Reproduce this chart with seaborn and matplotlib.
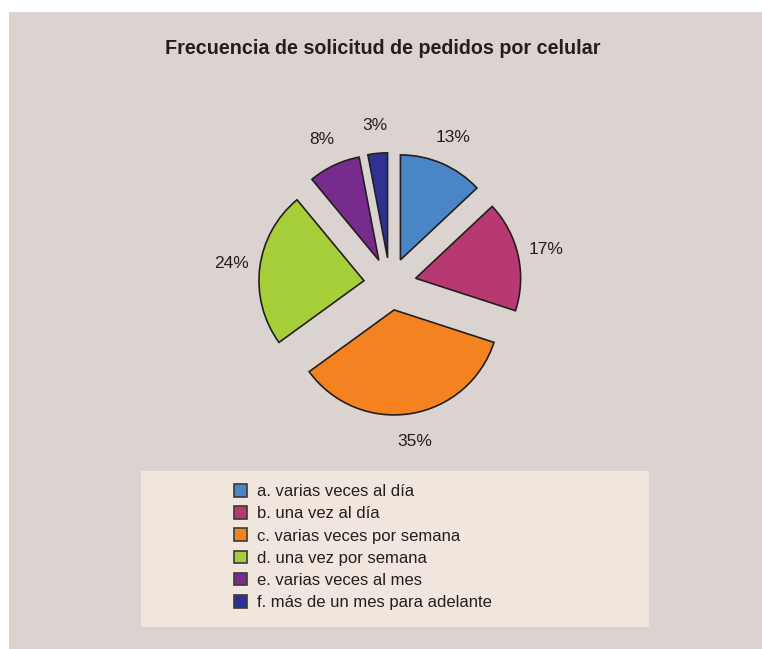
import numpy as np
import matplotlib
matplotlib.use("Agg")
import matplotlib.pyplot as plt
from matplotlib import font_manager
from matplotlib.patches import Rectangle, Patch
import seaborn as sns

# data
categorias = ["a. varias veces al día", "b. una vez al día", "c. varias veces por semana",
              "d. una vez por semana", "e. varias veces al mes", "f. más de un mes para adelante"]
porcentajes = [13, 17, 35, 24, 8, 3]
colores = ["#4A86C5", "#B83872", "#F58220", "#A6CE39", "#772B8C", "#2E3192"]
titulo = "Frecuencia de solicitud de pedidos por celular"

sns.set_theme(style="white")
nombres = {f.name for f in font_manager.fontManager.ttflist}
narrow = "Liberation Sans Narrow" in nombres
fam = "Liberation Sans Narrow" if narrow else "Liberation Sans"
plt.rcParams["font.family"] = [fam, "DejaVu Sans"]
k = 1.1 if narrow else 1.0  # narrow font can go a bit bigger
texto = "#231F20"

W, H = 762, 649
fig = plt.figure(figsize=(W / 100, H / 100), dpi=100)
fig.patch.set_facecolor("white")
# fondo gris del panel y caja de leyenda
fig.add_artist(Rectangle((9 / W, 0), 1, 1 - 12 / H, transform=fig.transFigure,
                         facecolor="#DBD3CF", edgecolor="none", zorder=0))
fig.add_artist(Rectangle((141 / W, 1 - 627 / H), 508 / W, 156 / H, transform=fig.transFigure,
                         facecolor="#F0E6DD", edgecolor="none", zorder=0))

fig.text(383 / W, 1 - 48 / H, titulo, ha="center", va="center",
         fontsize=14.2 * k, fontweight="bold", color=texto)

# pie: center (390,284) px, radius 105 px
cx, cy, half = 390, 284, 150
ax = fig.add_axes([(cx - half) / W, (H - cy - half) / H, 2 * half / W, 2 * half / H])
ax.set_facecolor("none")
wedges, _, autotexts = ax.pie(porcentajes, colors=colores, startangle=90, counterclock=False,
                              explode=[0.25] * len(porcentajes), autopct="%1.0f%%",
                              pctdistance=1.27,
                              wedgeprops=dict(edgecolor="#231F20", linewidth=1.2))
for t in autotexts:
    t.set_fontsize(12.5 * k)
    t.set_color(texto)
L = half / 105
ax.set_xlim(-L, L)
ax.set_ylim(-L, L)
ax.set_aspect("equal")
ax.axis("off")

handles = [Patch(facecolor=c, edgecolor="#3a3a3a", linewidth=1.2) for c in colores]
fig.legend(handles, categorias, loc="upper left", bbox_to_anchor=(234 / W, 1 - 484 / H),
           frameon=False, fontsize=12 * k, labelcolor=texto, handlelength=0.8, handleheight=0.8,
           handletextpad=0.6, labelspacing=0.42, borderpad=0, borderaxespad=0)

fig.savefig("out.png", dpi=100)
